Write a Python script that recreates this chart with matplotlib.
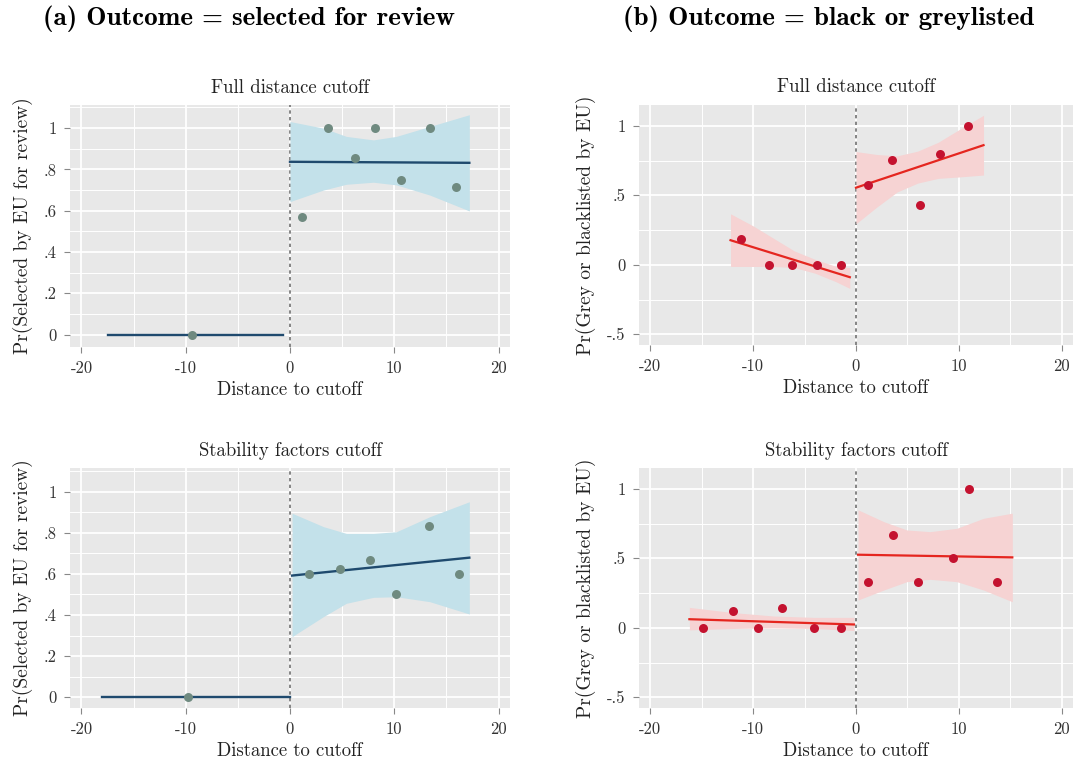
import matplotlib.pyplot as plt
import numpy as np

plt.rcParams['font.family'] = ['cmr10', 'DejaVu Serif']
plt.rcParams['axes.unicode_minus'] = False
plt.rcParams['axes.formatter.use_mathtext'] = True

# ---- data ----
# (a) selected for review, full distance cutoff
a1_bin_x = [-9.4, 1.15, 3.6, 6.2, 8.2, 10.6, 13.4, 15.9]
a1_bin_y = [0, 0.571, 1.0, 0.857, 1.0, 0.75, 1.0, 0.714]
a1_left_x = [-17.5, -0.65]
a1_left_y = [0, 0]
a1_right_x = [0, 17.2]
a1_right_y = [0.837, 0.832]
a1_ci_x = [0, 3.2, 5.4, 8, 10.2, 13.4, 17.2]
a1_ci_lo = [0.644, 0.70, 0.728, 0.738, 0.725, 0.676, 0.599]
a1_ci_hi = [1.032, 1.0, 0.96, 0.943, 0.96, 1.008, 1.065]

# (a) selected for review, stability factors cutoff
a2_bin_x = [-9.8, 1.8, 4.75, 7.65, 10.15, 13.3, 16.25]
a2_bin_y = [0, 0.60, 0.626, 0.668, 0.50, 0.833, 0.60]
a2_left_x = [-18.0, 0]
a2_left_y = [0, 0]
a2_right_x = [0.2, 17.2]
a2_right_y = [0.592, 0.679]
a2_ci_x = [0.2, 3.2, 5.4, 8, 10.2, 13.4, 17.2]
a2_ci_lo = [0.295, 0.392, 0.457, 0.486, 0.489, 0.465, 0.405]
a2_ci_hi = [0.895, 0.83, 0.797, 0.797, 0.805, 0.878, 0.951]

# (b) grey or blacklisted, full distance cutoff
b1_bin_x = [-11.2, -8.5, -6.2, -3.8, -1.5, 1.15, 3.5, 6.2, 8.15, 10.9]
b1_bin_y = [0.184, 0, 0, 0, 0, 0.572, 0.751, 0.431, 0.80, 1.0]
b1_left_x = [-12.2, -0.6]
b1_left_y = [0.177, -0.089]
b1_right_x = [0, 12.4]
b1_right_y = [0.555, 0.861]
b1_lci_x = [-12.2, -10, -8, -6, -4, -2, -0.6]
b1_lci_lo = [-0.012, -0.012, -0.012, -0.02, -0.06, -0.12, -0.17]
b1_lci_hi = [0.367, 0.28, 0.19, 0.10, 0.04, -0.01, -0.02]
b1_rci_x = [0, 2, 4, 6, 8, 10, 12.4]
b1_rci_lo = [0.295, 0.414, 0.524, 0.588, 0.622, 0.632, 0.646]
b1_rci_hi = [0.815, 0.794, 0.784, 0.818, 0.882, 0.972, 1.076]

# (b) grey or blacklisted, stability factors cutoff
b2_bin_x = [-14.9, -12.0, -9.5, -7.15, -4.1, -1.45, 1.2, 3.6, 6.0, 9.4, 11.0, 13.75]
b2_bin_y = [0, 0.123, 0, 0.142, 0, 0, 0.332, 0.666, 0.332, 0.50, 1.0, 0.332]
b2_left_x = [-16.2, -0.2]
b2_left_y = [0.062, 0.024]
b2_right_x = [0.2, 15.2]
b2_right_y = [0.526, 0.507]
b2_lci_x = [-16.2, -12, -8, -4, -0.2]
b2_lci_lo = [-0.015, -0.005, 0.0, -0.005, -0.02]
b2_lci_hi = [0.147, 0.11, 0.085, 0.075, 0.075]
b2_rci_x = [0.2, 2.7, 4.95, 7.2, 9.8, 12.4, 15.2]
b2_rci_lo = [0.20, 0.272, 0.332, 0.349, 0.332, 0.272, 0.1875]
b2_rci_hi = [0.849, 0.764, 0.704, 0.692, 0.716, 0.788, 0.825]

x_ticks = [-20, -10, 0, 10, 20]
x_ticklabels = ['-20', '-10', '0', '10', '20']
a_yticks = [0, 0.2, 0.4, 0.6, 0.8, 1]
a_yticklabels = ['0', '.2', '.4', '.6', '.8', '1']
b_yticks = [-0.5, 0, 0.5, 1]
b_yticklabels = ['-.5', '0', '.5', '1']

bg = '#e8e8e8'
W, H = 1077, 764


def setup(ax, title, ylabel, yticks, yticklabels, ylim, yminor):
    ax.set_facecolor(bg)
    for s in ax.spines.values():
        s.set_visible(False)
    ax.set_xlim(-21.1, 21.1)
    ax.set_ylim(*ylim)
    ax.set_xticks(x_ticks)
    ax.set_xticklabels(x_ticklabels)
    ax.set_xticks([-15, -5, 5, 15], minor=True)
    ax.set_yticks(yticks)
    ax.set_yticklabels(yticklabels)
    ax.set_yticks(yminor, minor=True)
    ax.grid(which='major', color='white', lw=1.3)
    ax.grid(which='minor', color='white', lw=0.7)
    ax.set_axisbelow(True)
    ax.tick_params(which='major', direction='out', length=4.5, width=0.8,
                   color='#888888', labelsize=12, labelcolor='#333333', pad=5)
    ax.tick_params(which='minor', length=0)
    ax.set_title(title, fontsize=13.5, pad=9, color='#222222')
    ax.set_xlabel('Distance to cutoff', fontsize=13.5, labelpad=4, color='#222222')
    ax.set_ylabel(ylabel, fontsize=14, labelpad=8, color='#222222')
    ax.axvline(0, color='#707070', lw=1.2, ls=(0, (2, 2)), zorder=1.5)


def box(x0, y0, x1, y1):
    return [x0 / W, 1 - y1 / H, (x1 - x0) / W, (y1 - y0) / H]


fig = plt.figure(figsize=(10.77, 7.64), dpi=100)

# colours
a_pt, a_line, a_band = '#6f8a80', '#1f4a6e', '#c3e1ea'
b_pt, b_line, b_band = '#c4122f', '#e5261f', '#f6d3d3'

a_ylim = (-0.06, 1.112)
b_ylim = (-0.577, 1.15)
a_minor = [0.1, 0.3, 0.5, 0.7, 0.9, 1.1]
b_minor = [-0.25, 0.25, 0.75]

# (a) top
ax = fig.add_axes(box(70, 105, 510, 347))
setup(ax, 'Full distance cutoff', 'Pr(Selected by EU for review)',
      a_yticks, a_yticklabels, a_ylim, a_minor)
ax.fill_between(a1_ci_x, a1_ci_lo, a1_ci_hi, color=a_band, lw=0, zorder=2)
ax.plot(a1_left_x, a1_left_y, color=a_line, lw=1.7, zorder=3)
ax.plot(a1_right_x, a1_right_y, color=a_line, lw=1.7, zorder=3)
ax.scatter(a1_bin_x, a1_bin_y, s=42, color=a_pt, zorder=4, lw=0)

# (a) bottom
ax = fig.add_axes(box(70, 468, 510, 708))
setup(ax, 'Stability factors cutoff', 'Pr(Selected by EU for review)',
      a_yticks, a_yticklabels, (-0.052, 1.115), a_minor)
ax.fill_between(a2_ci_x, a2_ci_lo, a2_ci_hi, color=a_band, lw=0, zorder=2)
ax.plot(a2_left_x, a2_left_y, color=a_line, lw=1.7, zorder=3)
ax.plot(a2_right_x, a2_right_y, color=a_line, lw=1.7, zorder=3)
ax.scatter(a2_bin_x, a2_bin_y, s=42, color=a_pt, zorder=4, lw=0)

# (b) top
ax = fig.add_axes(box(639, 105, 1073, 345))
setup(ax, 'Full distance cutoff', 'Pr(Grey or blacklisted by EU)',
      b_yticks, b_yticklabels, b_ylim, b_minor)
ax.fill_between(b1_lci_x, b1_lci_lo, b1_lci_hi, color=b_band, lw=0, zorder=2)
ax.fill_between(b1_rci_x, b1_rci_lo, b1_rci_hi, color=b_band, lw=0, zorder=2)
ax.plot(b1_left_x, b1_left_y, color=b_line, lw=1.6, zorder=3)
ax.plot(b1_right_x, b1_right_y, color=b_line, lw=1.6, zorder=3)
ax.scatter(b1_bin_x, b1_bin_y, s=42, color=b_pt, zorder=4, lw=0)

# (b) bottom
ax = fig.add_axes(box(639, 468, 1073, 708))
setup(ax, 'Stability factors cutoff', 'Pr(Grey or blacklisted by EU)',
      b_yticks, b_yticklabels, b_ylim, b_minor)
ax.fill_between(b2_lci_x, b2_lci_lo, b2_lci_hi, color=b_band, lw=0, zorder=2)
ax.fill_between(b2_rci_x, b2_rci_lo, b2_rci_hi, color=b_band, lw=0, zorder=2)
ax.plot(b2_left_x, b2_left_y, color=b_line, lw=1.6, zorder=3)
ax.plot(b2_right_x, b2_right_y, color=b_line, lw=1.6, zorder=3)
ax.scatter(b2_bin_x, b2_bin_y, s=42, color=b_pt, zorder=4, lw=0)

fig.text(249 / W, 1 - 19 / H, '(a) Outcome = selected for review',
         ha='center', va='center', fontsize=19.5, family=['cmb10', 'DejaVu Serif'])
fig.text(829 / W, 1 - 19 / H, '(b) Outcome = black or greylisted',
         ha='center', va='center', fontsize=19.5, family=['cmb10', 'DejaVu Serif'])

fig.savefig('out.png', dpi=100)
